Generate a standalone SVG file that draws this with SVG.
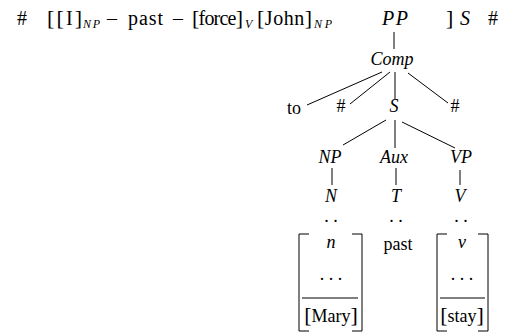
<svg xmlns="http://www.w3.org/2000/svg" width="507" height="335" viewBox="0 0 507 335">
<style>
text{font-family:'Liberation Serif','Times New Roman',serif;font-size:18px;fill:#000}
.t{font-size:20px}
.i{font-style:italic}
.sub{font-style:italic;font-size:12px}
.br{font-size:22px}
.c{text-anchor:middle}
line,path{stroke:#000;stroke-width:1;fill:none}
</style>
<g id="top">
<text x="17" y="25" class="t">#</text>
<text x="47" y="25" class="t" textLength="35" lengthAdjust="spacing"><tspan class="br">[[</tspan>I<tspan class="br">]</tspan></text>
<text x="83" y="28" class="sub" textLength="17" lengthAdjust="spacing">NP</text>
<text x="107" y="25" class="t">–</text>
<text x="128" y="25" class="t" textLength="35" lengthAdjust="spacing">past</text>
<text x="173" y="25" class="t">–</text>
<text x="192" y="25" class="t" textLength="51" lengthAdjust="spacing"><tspan class="br">[</tspan>force<tspan class="br">]</tspan></text>
<text x="245" y="28" class="sub">V</text>
<text x="257" y="25" class="t" textLength="55" lengthAdjust="spacing"><tspan class="br">[</tspan>John<tspan class="br">]</tspan></text>
<text x="314" y="28" class="sub" textLength="18" lengthAdjust="spacing">NP</text>
<text x="446" y="25" class="t"><tspan class="br">]</tspan></text>
<text x="460" y="25" class="t i">S</text>
<text x="488" y="25" class="t">#</text>
</g>
<g id="PP"><text x="382" y="25" class="t i" textLength="26" lengthAdjust="spacing">PP</text></g>
<g id="Comp"><text x="392" y="65" class="i c">Comp</text></g>
<g id="to"><text x="294" y="114" class="c">to</text></g>
<g id="hash1"><text x="341" y="112" class="c">#</text></g>
<g id="S"><text x="394" y="112" class="i c">S</text></g>
<g id="hash2"><text x="455" y="112" class="c">#</text></g>
<g id="NP"><text x="330" y="163" class="i c">NP</text></g>
<g id="Aux"><text x="394" y="163" class="i c">Aux</text></g>
<g id="VP"><text x="461" y="163" class="i c">VP</text></g>
<g id="N"><text x="331" y="202" class="i c">N</text></g>
<g id="T"><text x="396" y="202" class="i c">T</text></g>
<g id="V"><text x="460" y="202" class="i c">V</text></g>
<g id="dots">
<text x="331" y="222" class="c">. .</text>
<text x="396" y="222" class="c">. .</text>
<text x="461" y="222" class="c">. .</text>
</g>
<g id="Mary">
<path d="M309,234 H299 V331 H309 M352,234 H362 V331 H352"/>
<line x1="302" y1="298" x2="358" y2="298"/>
<text x="331" y="248" class="i c">n</text>
<text x="331" y="280" class="c">. . .</text>
<text x="331" y="322" class="c"><tspan class="br">[</tspan>Mary<tspan class="br">]</tspan></text>
</g>
<g id="past"><text x="398" y="250" class="c">past</text></g>
<g id="stay">
<path d="M447,234 H437 V331 H447 M478,234 H488 V331 H478"/>
<line x1="440" y1="298" x2="485" y2="298"/>
<text x="462" y="248" class="i c">v</text>
<text x="462" y="280" class="c">. . .</text>
<text x="462" y="322" class="c"><tspan class="br">[</tspan>stay<tspan class="br">]</tspan></text>
</g>
<g id="connectors">
<line x1="394" y1="32" x2="394" y2="49"/>
<line x1="382" y1="72" x2="307" y2="105"/>
<line x1="390" y1="72" x2="350" y2="104"/>
<line x1="395" y1="72" x2="395" y2="99"/>
<line x1="408" y1="73" x2="448" y2="103"/>
<line x1="386" y1="120" x2="343" y2="145"/>
<line x1="395" y1="120" x2="395" y2="148"/>
<line x1="402" y1="122" x2="455" y2="148"/>
<line x1="332" y1="168" x2="332" y2="185"/>
<line x1="396" y1="168" x2="396" y2="185"/>
<line x1="460" y1="170" x2="460" y2="185"/>
</g>
</svg>
